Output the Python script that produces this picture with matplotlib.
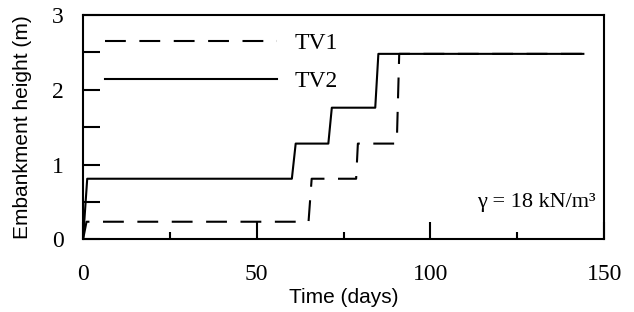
import matplotlib.pyplot as plt
from matplotlib.ticker import MultipleLocator

# staged construction histories
tv1_days   = [0, 1.0, 64.9, 65.8, 78.6, 79.1, 90.3, 91.0, 144]
tv1_height = [0, 0.235, 0.235, 0.81, 0.81, 1.28, 1.28, 2.48, 2.48]
tv2_days   = [0, 1.2, 60.1, 61.2, 70.6, 71.6, 84.1, 85.0, 144]
tv2_height = [0, 0.81, 0.81, 1.28, 1.28, 1.76, 1.76, 2.48, 2.48]

serif = "Liberation Serif"
sans  = "Liberation Sans"

fig = plt.figure(figsize=(6.34, 3.12), dpi=100)
ax = fig.add_axes([0.131, 0.233, 0.822, 0.719])

ax.plot(tv1_days, tv1_height, color="black", lw=1.5, dashes=(10, 6.5), label="TV1")
ax.plot(tv2_days, tv2_height, color="black", lw=1.5, label="TV2")

ax.set_xlim(0, 150)
ax.set_ylim(0, 3)
ax.xaxis.set_major_locator(MultipleLocator(50))
ax.xaxis.set_minor_locator(MultipleLocator(25))
ax.yaxis.set_major_locator(MultipleLocator(1))
ax.yaxis.set_minor_locator(MultipleLocator(0.5))

ax.tick_params(axis="x", which="major", direction="in", length=12, width=1.5, pad=18)
ax.tick_params(axis="x", which="minor", direction="in", length=5, width=1.5)
ax.tick_params(axis="y", which="both", direction="in", length=12, width=1.5, pad=14)
for lab in ax.get_xticklabels() + ax.get_yticklabels():
    lab.set_fontfamily(serif)
    lab.set_fontsize(17)

for sp in ax.spines.values():
    sp.set_linewidth(1.5)

ax.set_xlabel("Time (days)", fontfamily=sans, fontsize=15, labelpad=2)
ax.set_ylabel("Embankment height (m)", fontfamily=sans, fontsize=15, labelpad=14)

ax.legend(loc="upper left", bbox_to_anchor=(0.0415, 0.921), frameon=False,
          prop={"family": serif, "size": 17}, handlelength=7.3,
          handletextpad=0.75, labelspacing=0.7, borderpad=0, borderaxespad=0)

ax.text(0.983, 0.144, "γ = 18 kN/m³", transform=ax.transAxes, ha="right",
        va="baseline", fontfamily=serif, fontsize=16)

plt.savefig("out.png", dpi=100)
